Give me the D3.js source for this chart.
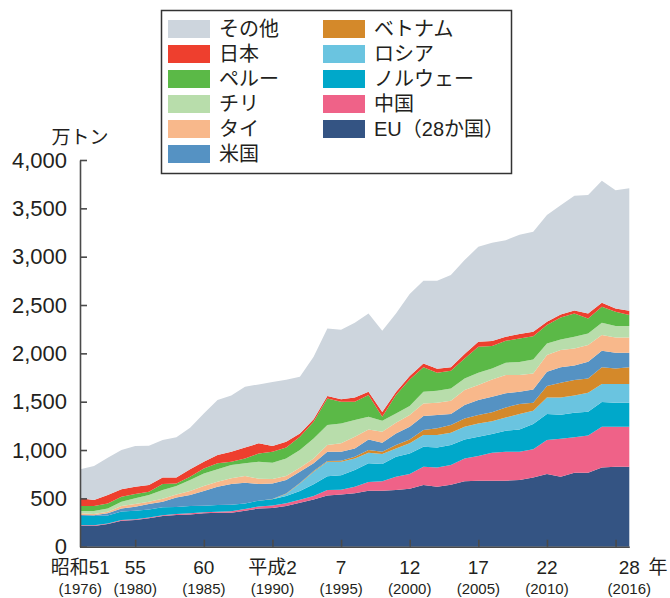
<!DOCTYPE html>
<html>
<head>
<meta charset="utf-8">
<script src="https://cdn.jsdelivr.net/npm/d3@7"></script>
<style>
body { margin: 0; background: #fff; }
text { font-family: "Liberation Sans", "Noto Sans CJK JP", sans-serif; fill: #231f20; }
</style>
</head>
<body>
<div id="viz"></div>
<script>

// ****************** Data (万トン) ***************************
var years = [1976,1977,1978,1979,1980,1981,1982,1983,1984,1985,
             1986,1987,1988,1989,1990,1991,1992,1993,1994,1995,
             1996,1997,1998,1999,2000,2001,2002,2003,2004,2005,
             2006,2007,2008,2009,2010,2011,2012,2013,2014,2015,2016];

var eu = [214,214,234,269,276,293,317,328,334,345, 350,350,372,396,400,421,455,489,530,540,
          552,579,579,586,600,638,620,641,676,683, 683,683,689,717,751,724,765,765,820,827,827];
var cn = [7,7,7,7,8,8,9,10,11,11, 12,16,18,20,25,29,30,35,56,50,
          68,90,97,138,151,189,200,204,237,255, 289,299,293,290,352,393,366,386,421,414,414];
var no = [96,96,83,89,88,85,81,72,75,68, 69,67,58,60,65,75,90,122,143,149,
          173,193,179,207,214,207,207,206,197,200, 193,218,231,262,269,248,255,245,255,248,248];
var ru = [0,0,0,0,0,0,0,0,0,0, 0,0,0,0,0,20,80,130,150,140,
          120,110,103,86,104,121,128,128,131,137, 133,137,159,137,172,179,179,197,186,193,193];
var vn = [0,0,0,0,0,0,0,0,0,0, 0,0,0,0,3,5,5,6,8,10,
          18,28,24,34,41,51,69,79,86,87, 93,104,103,83,117,152,159,148,173,162,173];
var us = [11,8,21,31,42,55,58,100,114,151, 189,215,214,172,162,139,116,80,95,93,
          86,110,93,121,131,145,138,114,138,155, 160,145,128,138,149,159,151,172,172,162,151];
var th = [17,13,17,24,27,24,31,31,41,52, 52,59,69,55,45,42,40,51,69,87,
          121,103,114,110,121,131,127,138,155,155, 179,189,172,165,172,179,176,173,162,159,159];
var cl = [24,31,34,45,59,69,90,86,114,131, 128,138,131,176,169,182,184,207,207,206,
          172,131,114,97,93,121,124,127,121,127, 114,128,135,145,121,110,121,120,127,117,117];
var pe = [51,51,52,52,44,35,62,28,35,52, 62,34,51,86,113,114,138,173,276,225,
          190,225,41,190,275,252,186,183,207,269, 231,227,244,241,189,228,241,155,166,148,114];
var jp = [80,63,86,76,76,69,69,62,76,69, 86,103,114,104,59,59,34,25,24,25,
          44,34,50,30,35,41,42,35,44,52, 52,42,45,45,35,31,30,52,41,35,45];
var ot = [300,351,386,407,421,407,386,414,431,500, 569,583,628,610,662,641,586,647,700,719,
          772,810,840,814,848,854,909,955,973,982, 1017,999,1027,1034,1103,1130,1187,1224,1262,1223,1268];

var keys   = ["eu","cn","no","ru","vn","us","th","cl","pe","jp","ot"];          // bottom -> top
var names  = ["EU（28か国）","中国","ノルウェー","ロシア","ベトナム","米国","タイ","チリ","ペルー","日本","その他"];
var colors = ["#345483","#ef6288","#00a8ca","#6ac4e0","#d4892a","#5592c3","#f8b88b","#b8ddab","#5bb947","#ee3f2e","#cdd5dd"];

var yTicks = [0,500,1000,1500,2000,2500,3000,3500,4000];
var xMarks = [1980,1985,1990,1995,2000,2005,2010,2015];
var labelYears = [1976,1980,1985,1990,1995,2000,2005,2010,2016];
var labelEra   = ["昭和51","55","60","平成2","7","12","17","22","28"];
var labelWest  = ["(1976)","(1980)","(1985)","(1990)","(1995)","(2000)","(2005)","(2010)","(2016)"];

var legendLeft  = ["ot","jp","pe","cl","th","us"];
var legendRight = ["vn","ru","no","cn","eu"];

var series = {eu:eu, cn:cn, no:no, ru:ru, vn:vn, us:us, th:th, cl:cl, pe:pe, jp:jp, ot:ot};
var table = years.map(function(yr, i) {
  var row = {year: yr};
  keys.forEach(function(k) { row[k] = series[k][i]; });
  return row;
});

width = 670;
height = 598;

var svg = d3.select("#viz")
    .append("svg")
    .attr("width", width)
    .attr("height", height);

var x = d3.scaleLinear().domain([1976, 2016]).range([80.3, 629.3]);
var y = d3.scaleLinear().domain([0, 4000]).range([546.7, 160]);

var color = d3.scaleOrdinal().domain(keys).range(colors);

// ****************** Areas ***************************
var stack = d3.stack().keys(keys);
var area = d3.area()
    .x(function(d) { return x(d.data.year); })
    .y0(function(d) { return y(d[0]); })
    .y1(function(d) { return y(d[1]); });

svg.append("g")
  .selectAll("path")
  .data(stack(table))
  .enter().append("path")
    .attr("fill", function(d) { return color(d.key); })
    .attr("d", area);

// ****************** Axes ***************************
var yAxis = svg.append("g")
    .attr("transform", "translate(80,0)")
    .call(d3.axisLeft(y).tickValues(yTicks).tickSizeInner(-7).tickSizeOuter(0)
          .tickPadding(13).tickFormat(d3.format(",")));
yAxis.selectAll("text").style("font-size", "22px");

var xAxis = svg.append("g")
    .attr("transform", "translate(0,546.7)")
    .call(d3.axisBottom(x).tickValues(xMarks).tickSizeInner(-7).tickSizeOuter(0).tickFormat(""));

svg.selectAll(".domain, .tick line")
    .attr("stroke", "#4a4a4a")
    .attr("stroke-width", 1.6);

svg.append("g").selectAll("text")
    .data(labelYears)
    .enter().append("text")
    .attr("x", function(d) { return x(d); })
    .attr("y", 574)
    .attr("text-anchor", "middle")
    .style("font-size", "19px")
    .text(function(d, i) { return labelEra[i]; });

svg.append("g").selectAll("text")
    .data(labelYears)
    .enter().append("text")
    .attr("x", function(d) { return x(d); })
    .attr("y", 594)
    .attr("text-anchor", "middle")
    .style("font-size", "15px")
    .text(function(d, i) { return labelWest[i]; });

svg.append("text")
    .attr("x", 658).attr("y", 574)
    .attr("text-anchor", "middle")
    .style("font-size", "19px")
    .text("年");

svg.append("text")
    .attr("x", 80).attr("y", 144)
    .attr("text-anchor", "middle")
    .style("font-size", "19px")
    .text("万トン");

// ****************** Legend ***************************
var legend = svg.append("g");
legend.append("rect")
    .attr("x", 161.5).attr("y", 10.5)
    .attr("width", 350).attr("height", 163)
    .attr("fill", "#fff")
    .attr("stroke", "#333")
    .attr("stroke-width", 1.5);

function legendColumn(list, x0) {
  var item = legend.append("g").selectAll("g")
      .data(list)
      .enter().append("g")
      .attr("transform", function(d, i) { return "translate(" + x0 + "," + (29 + i * 25) + ")"; });
  item.append("rect")
      .attr("x", 0).attr("y", -9)
      .attr("width", 42).attr("height", 18)
      .attr("fill", function(d) { return color(d); });
  item.append("text")
      .attr("x", 51).attr("y", 7)
      .style("font-size", "20px")
      .text(function(d) { return names[keys.indexOf(d)]; });
}
legendColumn(legendLeft, 168);
legendColumn(legendRight, 323);

</script>
</body>
</html>
